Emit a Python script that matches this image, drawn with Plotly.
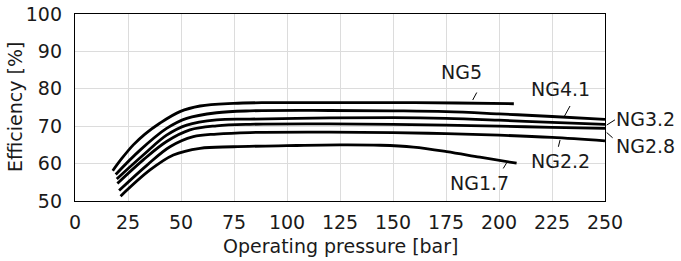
import plotly.graph_objects as go

# ---- data ----
ng5_x = [17.8, 22, 27.5, 33, 40, 49.5, 59, 74.7, 90, 120, 150, 180, 207]
ng5_y = [58.1, 61.3, 65.0, 67.9, 70.8, 73.9, 75.4, 76.1, 76.3, 76.3, 76.3, 76.2, 76.0]

ng41_x = [19.2, 30.7, 43.2, 52.7, 66.8, 82.5, 120, 150, 175, 200, 225, 250]
ng41_y = [57.1, 63.6, 69.4, 72.1, 73.6, 74.1, 74.2, 74.1, 73.9, 73.3, 72.6, 71.8]

ng32_x = [19.7, 32.2, 43.2, 52.7, 66.8, 82.5, 120, 150, 175, 200, 225, 250]
ng32_y = [55.9, 62.3, 67.6, 70.3, 71.7, 71.9, 72.2, 72.3, 72.1, 71.6, 71.0, 70.5]

ng28_x = [20, 32.2, 43.2, 54.2, 66.8, 82.5, 120, 150, 175, 200, 225, 250]
ng28_y = [54.7, 61.0, 65.9, 69.0, 70.1, 70.5, 70.6, 70.5, 70.3, 70.0, 69.7, 69.4]

ng22_x = [20.8, 34, 44.8, 55.8, 66.8, 82.5, 120, 150, 175, 200, 225, 250]
ng22_y = [52.8, 59.6, 64.5, 67.2, 67.9, 68.3, 68.4, 68.3, 68.0, 67.6, 67.0, 66.1]

ng17_x = [21.5, 35.4, 46.4, 59, 74.7, 100, 125, 144, 159.6, 175.3, 191, 208.3]
ng17_y = [51.3, 58.3, 62.3, 64.1, 64.5, 64.8, 65.0, 64.9, 64.4, 63.2, 61.7, 60.1]

series_names = ["NG5", "NG4.1", "NG3.2", "NG2.8", "NG2.2", "NG1.7"]
series_x = [ng5_x, ng41_x, ng32_x, ng28_x, ng22_x, ng17_x]
series_y = [ng5_y, ng41_y, ng32_y, ng28_y, ng22_y, ng17_y]

# label positions (in data units) and leader lines
label_x = [182.1, 229.2, 269.2, 269.2, 229.2, 190.8]
label_y = [84.6, 79.9, 71.9, 64.8, 60.8, 54.9]
leader_x = [[187.6, 189.5], [230.7, 233.5], [250.8, 254.7], [250.8, 253.6], [228.0, 228.8], [202.0, 203.6]]
leader_y = [[77.0, 79.0], [72.5, 75.4], [70.3, 71.7], [68.3, 66.9], [64.5, 66.3], [58.7, 60.2]]

x_ticks = [0, 25, 50, 75, 100, 125, 150, 175, 200, 225, 250]
y_ticks = [50, 60, 70, 80, 90, 100]
X_RANGE = [0, 250]
Y_RANGE = [50, 100]

FONT = "DejaVu Sans"
FS = 19
TXT = "#1a1a1a"


def px_(v):
    return (v - X_RANGE[0]) / (X_RANGE[1] - X_RANGE[0])


def py_(v):
    return (v - Y_RANGE[0]) / (Y_RANGE[1] - Y_RANGE[0])


fig = go.Figure()
for name, xs, ys in zip(series_names, series_x, series_y):
    fig.add_trace(go.Scatter(x=xs, y=ys, mode="lines", name=name,
                             line=dict(color="black", width=2.8, shape="spline", smoothing=1.0),
                             showlegend=False, hoverinfo="skip"))

for lx, ly in zip(leader_x, leader_y):
    fig.add_shape(type="line", xref="paper", yref="paper",
                  x0=px_(lx[0]), y0=py_(ly[0]), x1=px_(lx[1]), y1=py_(ly[1]),
                  line=dict(color="black", width=1))

for name, tx, ty in zip(series_names, label_x, label_y):
    fig.add_annotation(x=px_(tx), y=py_(ty), xref="paper", yref="paper", text=name, showarrow=False,
                       xanchor="center", yanchor="middle",
                       font=dict(family=FONT, size=FS, color=TXT))

# axis titles
fig.add_annotation(x=0.5, y=-0.241, xref="paper", yref="paper", text="Operating pressure [bar]",
                   showarrow=False, xanchor="center", yanchor="middle",
                   font=dict(family=FONT, size=FS, color=TXT))
fig.add_annotation(x=-0.113, y=0.503, xref="paper", yref="paper", text="Efficiency [%]",
                   showarrow=False, xanchor="center", yanchor="middle", textangle=-90,
                   font=dict(family=FONT, size=FS, color=TXT))

fig.update_xaxes(range=X_RANGE, tickvals=x_ticks, showgrid=True, gridcolor="#dcdcdc", gridwidth=1.3,
                 showline=True, linecolor="black", linewidth=1.3, mirror=True, zeroline=False,
                 ticks="", ticklabelstandoff=4, automargin=False, ticklabeloverflow="allow",
                 tickfont=dict(family=FONT, size=FS, color=TXT))
fig.update_yaxes(range=Y_RANGE, tickvals=y_ticks, showgrid=True, gridcolor="#dcdcdc", gridwidth=1.3,
                 showline=True, linecolor="black", linewidth=1.3, mirror=True, zeroline=False,
                 ticks="", ticklabelstandoff=8, automargin=False, ticklabeloverflow="allow",
                 tickfont=dict(family=FONT, size=FS, color=TXT))
fig.update_layout(width=681, height=261, margin=dict(l=75, r=76, t=14, b=60),
                  plot_bgcolor="white", paper_bgcolor="white")

# remove the page's default body margin so the figure fills the window exactly
fig.write_html("out.html", config={"displayModeBar": False},
               post_script="document.body.style.margin='0';")
